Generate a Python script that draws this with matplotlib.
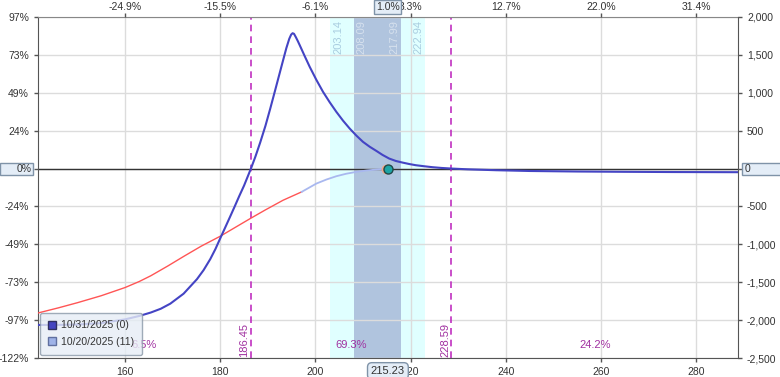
import numpy as np
import matplotlib.pyplot as plt
import matplotlib.transforms as mtransforms
from matplotlib.patches import Rectangle
from matplotlib.lines import Line2D

plt.rcParams['font.family'] = ['Liberation Sans', 'DejaVu Sans']
plt.rcParams['font.size'] = 7.5

# courbe a l'expiration (10/31/2025)
prix_exp = [141.7, 146, 150, 155, 160, 163, 165.4, 167.5, 169.5, 172.3, 175.1,
            176.5, 177.9, 179, 180, 181, 182, 183, 184, 185, 186, 186.45, 187.4,
            188.4, 189.5, 190.5, 191.5, 192.5, 193.2, 193.9, 194.5, 194.9, 195.2,
            195.5, 195.9, 196.3, 196.7, 197.7, 198.8, 200.2, 201.6, 203, 204.4,
            205.8, 207.2, 208.6, 210, 211.4, 212.8, 214.1, 215.5, 216.9, 218.3,
            219.7, 221.1, 222.9, 224.6, 226.5, 228.59, 232, 238, 245, 255, 265,
            275, 288.8]
pnl_exp = [-2064, -2063, -2058, -2040, -1990, -1945, -1900, -1850, -1783, -1651,
           -1460, -1340, -1195, -1060, -920, -783, -645, -505, -362, -225, -70,
           0, 160, 345, 565, 790, 1025, 1262, 1428, 1592, 1712, 1768, 1786,
           1778, 1732, 1682, 1628, 1490, 1342, 1170, 1012, 875, 748,
           632, 528, 435, 352, 288, 233, 180, 132, 100, 79,
           60, 44, 30, 18, 8, 0, -10, -22, -32, -39, -43,
           -46, -48]

# courbe T+11 (10/20/2025), partie rouge puis bleu pale
prix_t11_rouge = [141.7, 146, 150, 155, 160, 163, 165.4, 169, 172.3, 176, 180,
                  183, 186.3, 189.5, 193.2, 197.1]
pnl_t11_rouge = [-1906, -1838, -1770, -1678, -1570, -1490, -1415, -1285, -1160,
                 -1024, -893, -782, -660, -545, -418, -308]
prix_t11_bleu = [197.1, 200.2, 202.3, 204.4, 206.5, 208.6, 210.7, 212.8, 214, 215.23]
pnl_t11_bleu = [-308, -198, -145, -101, -68, -44, -26, -13, -5, 0]

prix_actuel = 215.23
seuils = [186.45, 228.59]
bande_ext = [203.14, 222.94]
bande_int = [208.09, 217.99]
probas = ["6.5%", "69.3%", "24.2%"]

ticks_x = [160, 180, 200, 220, 240, 260, 280]
ticks_haut = ["-24.9%", "-15.5%", "-6.1%", "3.3%", "12.7%", "22.0%", "31.4%"]
ticks_y = [2000, 1500, 1000, 500, 0, -500, -1000, -1500, -2000, -2500]
ticks_pct = ["97%", "73%", "49%", "24%", "", "-24%", "-49%", "-73%", "-97%", "-122%"]
ticks_dollars = ["2,000", "1,500", "1,000", "500", "", "-500", "-1,000", "-1,500", "-2,000", "-2,500"]
legende = ["10/31/2025 (0)", "10/20/2025 (11)"]

xmin, xmax = 141.7, 288.8
ymin, ymax = -2500, 2000

fig = plt.figure(figsize=(7.8, 3.77), dpi=100)
ax = fig.add_axes([38/780, 19/377, 700/780, 341/377])
ax.set_xlim(xmin, xmax)
ax.set_ylim(ymin, ymax)

gris = '#555555'
texte = '#333333'
violet = '#a030a0'

# bandes
ax.axvspan(bande_ext[0], bande_ext[1], color='#e0ffff', lw=0, zorder=0.5)
ax.axvspan(bande_int[0], bande_int[1], color='#b0c4de', lw=0, zorder=0.6)

ax.grid(color='#dcdcdc', lw=1)
ax.axhline(0, color='#333333', lw=1, zorder=2)

for s in seuils:
    ax.axvline(s, color='#c030c0', lw=1.2, ls=(0, (4, 3)), zorder=2.2)

ax.plot(prix_t11_rouge, pnl_t11_rouge, color='#ff5555', lw=1.0, zorder=3)
ax.plot(prix_t11_bleu, pnl_t11_bleu, color='#a9b8ef', lw=1.3, zorder=3)
ax.plot(prix_exp, pnl_exp, color='#4444c4', lw=1.5, zorder=4)

# point du prix actuel
ax.plot(prix_actuel - 0.5, 0, 'o', ms=7, mfc='#f0a888', mec='none', zorder=5)
ax.plot(prix_actuel, 0, 'o', ms=6.5, mfc='#1ca5a5', mec='#204848', mew=1, zorder=6)

mix = mtransforms.blended_transform_factory(ax.transData, ax.transAxes)

# etiquettes des bandes
bandes = [(bande_ext[0], 'left', '#a9cde0'), (bande_int[0], 'left', '#d6e1ee'),
          (bande_int[1], 'right', '#d6e1ee'), (bande_ext[1], 'right', '#a9cde0')]
for x, ha, c in bandes:
    dx = 2 if ha == 'left' else -1
    ax.annotate("%.2f" % x, xy=(x, 1), xycoords=mix, xytext=(dx, -2),
                textcoords='offset points', rotation=90, ha=ha, va='top',
                color=c, fontsize=8, zorder=7)

# etiquettes des seuils
for s in seuils:
    ax.annotate("%.2f" % s, xy=(s, 0), xycoords=mix, xytext=(-1, 1),
                textcoords='offset points', rotation=90, ha='right', va='bottom',
                color=violet, fontsize=8, zorder=7)

# probabilites
bornes = [xmin] + seuils + [xmax]
for i in range(3):
    ax.text((bornes[i] + bornes[i + 1]) / 2, 0.038, probas[i], transform=mix,
            ha='center', va='center', color=violet, fontsize=8, zorder=7)

# axes
ax.set_xticks(ticks_x)
ax.set_yticks(ticks_y, ticks_pct)
ax.tick_params(colors=gris, labelcolor=texte, length=3, width=1, labelsize=7.5)
ax.spines['right'].set_visible(False)
for c in ['left', 'bottom']:
    ax.spines[c].set_color(gris)
ax.spines['top'].set_color('#888888')
ax.spines['top'].set_linewidth(0.8)

ax_r = ax.twinx()
ax_r.set_ylim(ymin, ymax)
ax_r.set_yticks(ticks_y, ticks_dollars)
ax_r.tick_params(colors=gris, labelcolor=texte, length=3, width=1, labelsize=7.5)
for c in ['top', 'left', 'bottom']:
    ax_r.spines[c].set_visible(False)
ax_r.spines['right'].set_color(gris)

ax_t = ax.twiny()
ax_t.set_xlim(xmin, xmax)
ax_t.set_xticks(ticks_x, ticks_haut)
ax_t.tick_params(colors=gris, labelcolor=texte, length=3, width=1, labelsize=7.5, pad=0.8)
for c in ['top', 'left', 'bottom', 'right']:
    ax_t.spines[c].set_visible(False)

# legende
poignees = [Line2D([], [], ls='', marker='s', ms=6, mfc='#4545c0', mec='#303060'),
            Line2D([], [], ls='', marker='s', ms=6, mfc='#9fb3e8', mec='#6070a0')]
leg = ax_t.legend(poignees, legende, loc='lower left', bbox_to_anchor=(0.003, 0.009),
                  borderaxespad=0, fontsize=7.5, frameon=True, fancybox=True,
                  framealpha=0.8, facecolor='#e6edf5', edgecolor='#8a98a8',
                  handlelength=0.8, handletextpad=0.5, labelspacing=0.65,
                  borderpad=0.75, labelcolor=texte)
leg.set_zorder(20)

# boites de valeurs courantes
boite = dict(fc='#e4edf7', ec='#7f93a8', lw=1)
y0 = 1 - 169/377
fig.patches.append(Rectangle((0, y0 - 6/377), 33/780, 12/377, transform=fig.transFigure,
                             fc='#e4edf7', ec='#7f93a8', lw=1))
fig.text(32/780, y0, "0%", ha='right', va='center', color=texte, fontsize=7.5)
fig.patches.append(Rectangle((742/780, y0 - 6/377), 45/780, 12/377, transform=fig.transFigure,
                             fc='#e4edf7', ec='#7f93a8', lw=1))
fig.text(745/780, y0, "0", ha='left', va='center', color=texte, fontsize=7.5)

mix_fig = mtransforms.blended_transform_factory(ax.transData, fig.transFigure)
fig.text(prix_actuel, 1 - 7/377, "%.1f%%" % ((prix_actuel / 213.1 - 1) * 100),
         transform=mix_fig, ha='center', va='center', color=texte, fontsize=7.5,
         bbox=dict(boxstyle='square,pad=0.15', **boite))
fig.text(prix_actuel, 1 - 371/377, "%.2f" % prix_actuel,
         transform=mix_fig, ha='center', va='center', color=texte, fontsize=8,
         bbox=dict(boxstyle='round,pad=0.3,rounding_size=0.4', **boite))

plt.savefig('out.png', dpi=100)
